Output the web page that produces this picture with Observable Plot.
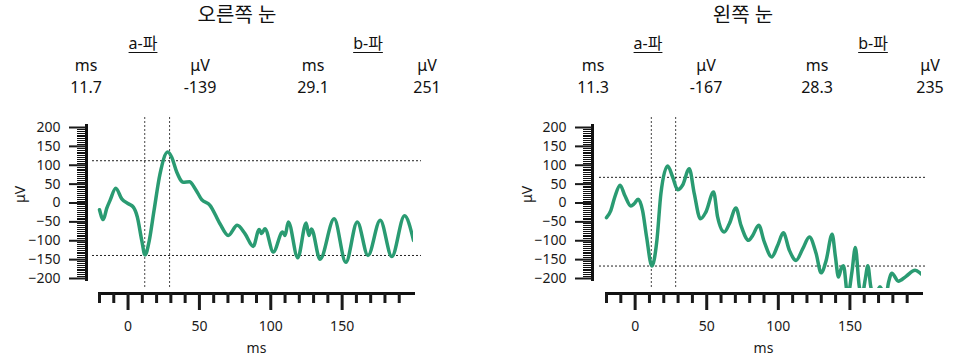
<!DOCTYPE html>
<html>
<head>
<meta charset="utf-8">
<script src="https://cdn.jsdelivr.net/npm/d3@7"></script>
<script src="https://cdn.jsdelivr.net/npm/@observablehq/plot@0.6"></script>
<style>
  body { margin: 0; background: #fff; font-family: "Noto Sans", "Noto Sans CJK KR", sans-serif; color: #111; }
  #wrap { position: relative; width: 966px; height: 363px; overflow: hidden; }
  .panel { position: absolute; top: 0; width: 483px; height: 363px; }
  .hdr { position: absolute; transform: translateX(-50%); white-space: nowrap; line-height: 20px; font-size: 16px; }
  .title { font-size: 20px; line-height: 24px; }
  .u { text-decoration: underline; text-underline-offset: 3px; text-decoration-thickness: 1px; }
  .svgbox { position: absolute; top: 110px; left: 0; }
</style>
</head>
<body>
<div id="wrap"></div>
<script>
// ---------- data ----------
const eyeNames = ["오른쪽 눈", "왼쪽 눈"];
const waveNames = ["a-파", "b-파"];
const unitNames = ["ms", "μV"];
const aWaveMs = [11.7, 11.3];
const aWaveUv = [-139, -167];
const bWaveMs = [29.1, 28.3];
const bWaveUv = [251, 235];

const xMajorTicks = [0, 50, 100, 150];
const xMinorTicks = [-20, -10, 10, 20, 30, 40, 60, 70, 80, 90, 110, 120, 130, 140, 160, 170, 180, 190];
const yMajorTicks = [-200, -150, -100, -50, 0, 50, 100, 150, 200];

// right eye (오른쪽 눈)
const rightTime = [-20, -17.3, -15, -12.6, -8.6, -4.4, 0.2, 3.7, 6.5, 9.6, 11.9, 14.9, 18.2, 22.4, 27.8, 30.6, 34.1, 38.7, 43, 47, 51.6, 57.4, 64.4, 70.2, 76.5, 81.9, 87.7, 91.9, 93.6, 95.9, 101.8, 108.3, 110, 112.3, 118.9, 124.8, 126.7, 128.5, 134.5, 144.4, 152.6, 160.6, 168.1, 176.7, 184.8, 193.7, 200];
const rightUv   = [-18, -44, -15, 7, 39, 11, -2, -11, -37, -99, -138, -99, -20, 77, 135, 121, 82, 55, 56, 38, 9, -6, -55, -86, -59, -81, -115, -70, -81, -68, -130, -77, -86, -50, -145, -53, -86, -69, -149, -42, -157, -50, -139, -46, -142, -34, -99];

// left eye (왼쪽 눈)
const leftTime = [-20, -17, -14.2, -10.5, -7.2, -3, -0.7, 2.1, 5.2, 8, 11.7, 15.2, 18, 22.7, 26.2, 29.7, 33.1, 37.8, 41.3, 45.6, 49.4, 54.8, 57.6, 62.2, 65.8, 70.4, 73.9, 79.3, 82.1, 86.3, 90.2, 95.4, 99.6, 103.5, 107.7, 112.4, 117.1, 121.7, 126.4, 129.9, 133.4, 137.6, 139.9, 142, 144, 145.5, 148.5, 151.5, 153.8, 156.5, 158.5, 160.8, 162.5, 164.5, 167, 171, 175, 177, 179.3, 183.8, 189, 195.5, 200];
const leftUv   = [-39, -20, 16, 47, 20, -8, -2, 10, -20, -90, -167, -99, 25, 98, 69, 35, 47, 91, 25, -42, -24, 29, -37, -77, -55, -13, -59, -99, -86, -59, -103, -143, -112, -79, -125, -152, -121, -90, -134, -185, -152, -83, -143, -196, -172, -166, -245, -180, -118, -220, -245, -200, -166, -220, -250, -222, -250, -210, -186, -207, -195, -178, -189];

const series = [
  {time: rightTime, uv: rightUv},
  {time: leftTime, uv: leftUv}
];

// ---------- layout ----------
const layout = [
  {left: 0, marginLeft: 86, inset: 13, marginRight: 70, ruleInsetLeft: 6, ruleInsetRight: -8,
   cols: [86, 200, 313, 427], title: 237, waves: [143, 368], yLabelDx: -66},
  {left: 483, marginLeft: 109, inset: 14, marginRight: 45, ruleInsetLeft: 7, ruleInsetRight: -6,
   cols: [110, 223, 334, 447], title: 260, waves: [165, 390], yLabelDx: -65}
];

const lineColor = "#2a9b72";
const wrap = document.getElementById("wrap");

function hdr(panel, text, x, top, cls) {
  const d = document.createElement("div");
  d.className = "hdr" + (cls ? " " + cls : "");
  d.style.left = x + "px";
  d.style.top = top + "px";
  d.textContent = text;
  panel.appendChild(d);
}

series.forEach((s, i) => {
  const L = layout[i];
  const panel = document.createElement("div");
  panel.className = "panel";
  panel.style.left = L.left + "px";
  wrap.appendChild(panel);

  hdr(panel, eyeNames[i], L.title, 3, "title");
  hdr(panel, waveNames[0], L.waves[0], 33, "u");
  hdr(panel, waveNames[1], L.waves[1], 33, "u");
  const values = [aWaveMs[i].toFixed(1), String(aWaveUv[i]), bWaveMs[i].toFixed(1), String(bWaveUv[i])];
  L.cols.forEach((cx, j) => {
    hdr(panel, unitNames[j % 2], cx, 55);
    hdr(panel, values[j], cx, 77);
  });

  const data = s.time.map((t, k) => ({t, v: s.uv[k]}));
  const refX = [aWaveMs[i], bWaveMs[i]];
  const refY = [aWaveUv[i], aWaveUv[i] + bWaveUv[i]];

  const chart = Plot.plot({
    width: 483,
    height: 253,
    marginTop: 7,
    marginBottom: 75,
    marginLeft: L.marginLeft,
    marginRight: L.marginRight,
    style: {fontFamily: "Noto Sans, sans-serif", fontSize: "14px", color: "#1a1a1a", background: "transparent", overflow: "visible"},
    x: {domain: [-20, 200], insetLeft: L.inset, insetRight: 0},
    y: {domain: [-200, 200], insetTop: 10, insetBottom: 10},
    marks: [
      Plot.ruleX(refX, {stroke: "#444", strokeWidth: 1, strokeDasharray: "2,2"}),
      Plot.ruleY(refY, {stroke: "#222", strokeWidth: 1, strokeDasharray: "2,2", insetLeft: L.ruleInsetLeft, insetRight: L.ruleInsetRight}),
      Plot.line(data, {x: "t", y: "v", stroke: lineColor, strokeWidth: 3.5, curve: "monotone-x", clip: true}),
      Plot.frame({anchor: "left", insetTop: 8, insetBottom: 9, strokeWidth: 3, stroke: "#111"}),
      Plot.axisY(d3.range(-200, 201, 5), {anchor: "left", tickSize: 9, strokeWidth: 1, stroke: "#111", shapeRendering: "crispEdges", tickFormat: () => "", label: null}),
      Plot.axisY(yMajorTicks, {anchor: "left", tickSize: 17, strokeWidth: 2, tickPadding: 9, label: null}),
      Plot.frame({anchor: "bottom", insetLeft: L.inset, dy: 5, strokeWidth: 3, stroke: "#111"}),
      Plot.axisX(xMinorTicks, {anchor: "bottom", tickSize: 10, strokeWidth: 3, dy: 5, tickFormat: () => "", label: null}),
      Plot.axisX(xMajorTicks, {anchor: "bottom", tickSize: 17, strokeWidth: 3, dy: 5, tickPadding: 11, label: null}),
      Plot.text(["ms"], {text: d => d, frameAnchor: "bottom", dx: 6.5, dy: 60, lineAnchor: "middle", fontSize: 14}),
      Plot.text(["μV"], {text: d => d, frameAnchor: "left", dx: L.yLabelDx, rotate: -90, lineAnchor: "middle", fontSize: 14})
    ]
  });
  const box = document.createElement("div");
  box.className = "svgbox";
  box.appendChild(chart);
  panel.appendChild(box);
});
</script>
</body>
</html>
